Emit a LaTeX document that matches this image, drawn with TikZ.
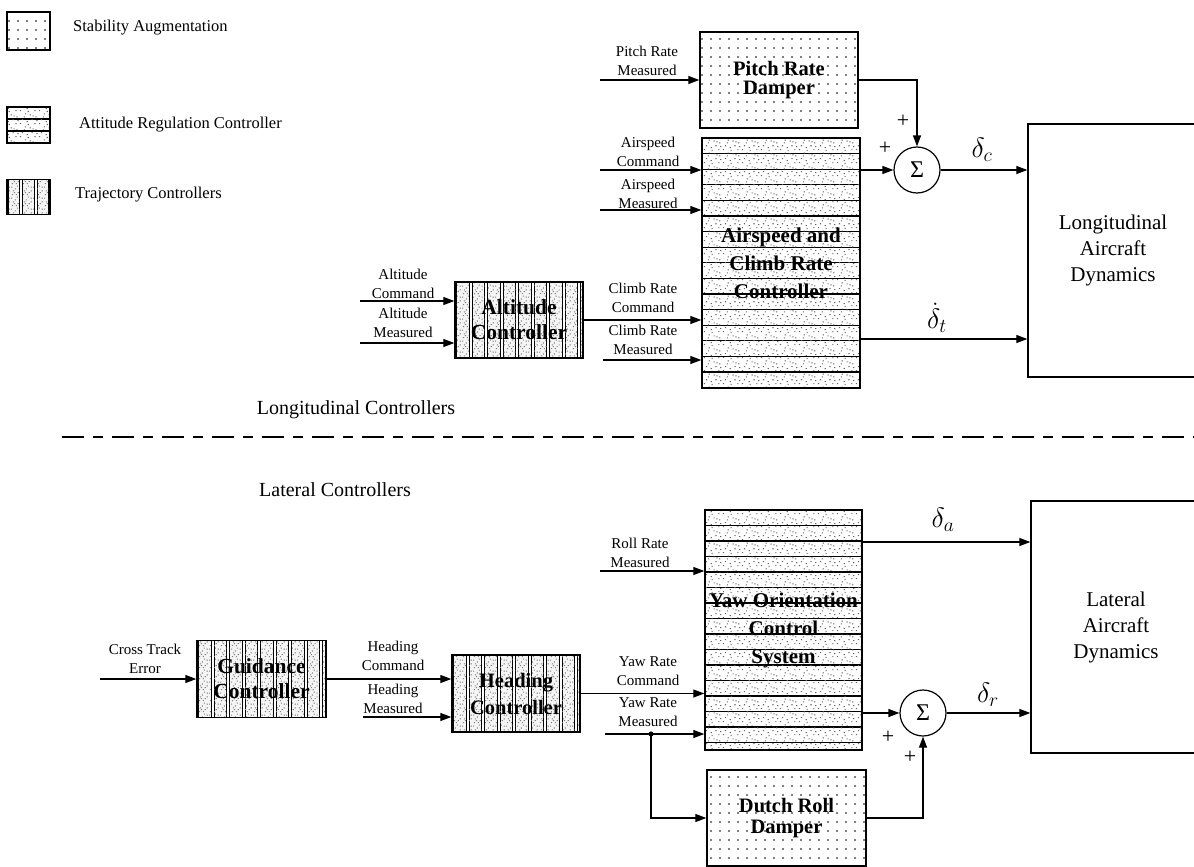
\RequirePackage{fix-cm}
\documentclass[tikz,border=0pt]{standalone}
\usepackage{fontspec}
\setmainfont{Liberation Serif}
\usetikzlibrary{arrows.meta,patterns}

\newcommand{\spk}[2]{\pgfpathrectangle{\pgfqpoint{#1pt}{#2pt}}{\pgfqpoint{1.2pt}{1.1pt}}}
\pgfdeclarepatternformonly{sdots}{\pgfqpoint{-1pt}{-1pt}}{\pgfqpoint{1pt}{1pt}}{\pgfqpoint{9pt}{9pt}}{%
  \pgfpathcircle{\pgfqpoint{0pt}{0pt}}{0.85pt}\pgfusepath{fill}}
\pgfdeclarepatternformonly{speckle}{\pgfqpoint{0pt}{0pt}}{\pgfqpoint{19pt}{13pt}}{\pgfqpoint{19pt}{13pt}}{%
  \spk{1}{2}\spk{5}{9}\spk{8}{4}\spk{11}{11}\spk{13}{6}\spk{16}{2}\spk{17}{9}\spk{3}{6}\spk{9}{1}\spk{14}{10}\spk{6}{12}\spk{18}{5}\pgfusepath{fill}}
\pgfdeclarepatternformonly{speckle2}{\pgfqpoint{0pt}{0pt}}{\pgfqpoint{11pt}{11pt}}{\pgfqpoint{11pt}{11pt}}{%
  \spk{1}{1}\spk{4}{7}\spk{7}{3}\spk{9}{9}\spk{2}{5}\spk{6}{10}\spk{9}{5}\spk{5}{1}\spk{0}{9}\spk{3}{3}\pgfusepath{fill}}

\tikzset{
  arr/.style={line width=1.2pt, -{Triangle[length=11pt,width=8pt]}},
  lbl/.style={font=\fontsize{15}{19}\selectfont, align=center, inner sep=0pt},
  legtxt/.style={font=\fontsize{16.5}{19}\selectfont, inner sep=0pt},
  sectxt/.style={font=\fontsize{20}{24}\selectfont, inner sep=0pt},
  pluslbl/.style={font=\fontsize{22}{22}\selectfont, inner sep=0pt},
  deltalbl/.style={font=\fontsize{28}{28}\selectfont, inner sep=0pt},
  stabbox/.style={draw, line width=1.3pt, pattern=sdots, align=center, inner sep=0pt},
  attbox/.style={draw, line width=1.4pt, align=center, inner sep=0pt,
    path picture={\foreach \k in {0,...,20}{
      \draw[line width=1.3pt, postaction={pattern=speckle, pattern color=black!60}]
        ([yshift={-\k*#1*1pt}]path picture bounding box.north west) rectangle
        ([yshift={-(\k+1)*#1*1pt}]path picture bounding box.north east);}}},
  trajbox/.style={draw, line width=1.4pt, align=center, inner sep=0pt,
    path picture={\foreach \k in {0,...,12}{
      \draw[line width=1pt, fill=black!4, postaction={pattern=speckle2, pattern color=black!50}]
        ([xshift={(\k*#1+1.5)*1pt}]path picture bounding box.south west) rectangle
        ([xshift={((\k+1)*#1-1.5)*1pt}]path picture bounding box.north west);}}},
  sumnode/.style={draw, circle, line width=1.2pt, minimum size=46pt, inner sep=0pt, font=\fontsize{24}{24}\selectfont},
  plantbox/.style={draw, line width=1.3pt, align=center, inner sep=0pt, font=\fontsize{21}{26}\selectfont},
  dashline/.style={line width=1.6pt, dash pattern=on 22pt off 9pt on 10pt off 9pt}
}

\begin{document}
\begin{tikzpicture}[x=1pt,y=-1pt]
\useasboundingbox (0,0) rectangle (1194,867);

% ---------- legend ----------
\node[stabbox, minimum width=43pt, minimum height=38pt] (lg1) at (28.5,31) {};
\node[legtxt, anchor=west] (lt1) at (73,28) {Stability Augmentation};
\node[attbox=12, minimum width=43pt, minimum height=36pt] (lg2) at (28.5,125) {};
\node[legtxt, anchor=west] (lt2) at (79,125) {Attitude Regulation Controller};
\node[trajbox=14.33, minimum width=43pt, minimum height=35pt] (lg3) at (28.5,197) {};
\node[legtxt, anchor=west] (lt3) at (75,195) {Trajectory Controllers};

% ---------- longitudinal ----------
\node[stabbox, minimum width=158pt, minimum height=96pt, font=\bfseries\fontsize{20.5}{19}\selectfont] (prd) at (779,80) {Pitch Rate\\Damper};
\node[attbox=15.6, minimum width=158pt, minimum height=250pt, font=\bfseries\fontsize{21}{28}\selectfont] (asc) at (781,263) {Airspeed and\\Climb Rate\\Controller};
\node[sumnode] (sum1) at (917,170) {Σ};
\node[plantbox, minimum width=170pt, minimum height=253pt] (long) at (1113,250.5) {Longitudinal\\Aircraft\\Dynamics};
\node[trajbox=15.5, minimum width=128pt, minimum height=76pt, font=\bfseries\fontsize{21.5}{25}\selectfont] (alt) at (519,320) {Altitude\\Controller};

\node[lbl] (lprm) at (647,61) {Pitch Rate\\Measured};
\node[lbl] (lasc) at (648,151.5) {Airspeed\\Command};
\node[lbl] (lasm) at (648,194) {Airspeed\\Measured};
\node[lbl] (lcrc) at (643,297.5) {Climb Rate\\Command};
\node[lbl] (lcrm) at (643,339.5) {Climb Rate\\Measured};
\node[lbl] (lalc) at (403,283.5) {Altitude\\Command};
\node[lbl] (lalm) at (403,322.5) {Altitude\\Measured};

\coordinate (prS) at (600,80);
\coordinate (acS) at (600,170);
\coordinate (amS) at (600,210);
\coordinate (crmS) at (603,360);
\coordinate (alcS) at (360,301);
\coordinate (almS) at (360,343);
\path ([yshift=-76pt]asc.east) coordinate (dtS);

\draw[arr] (prS) -- (prd.west);
\draw[arr] (acS) -- (acS -| asc.west);
\draw[arr] (amS) -- (amS -| asc.west);
\draw[arr] (sum1 -| asc.east) -- (sum1.west);
\draw[arr] (prd.east) -| (sum1.north);
\draw[arr] (sum1.east) -- (sum1 -| long.west);
\draw[arr] (alcS) -- (alcS -| alt.west);
\draw[arr] (almS) -- (almS -| alt.west);
\draw[arr] (alt.east) -- (alt.east -| asc.west);
\draw[arr] (crmS) -- (crmS -| asc.west);
\draw[arr] (dtS) -- (dtS -| long.west);

\node[pluslbl] (p1) at (903,121) {+};
\node[pluslbl] (p2) at (885,148) {+};
\node[deltalbl] (dc) at (982,150) {$\delta_c$};
\node[deltalbl] (dt) at (937,318) {$\dot{\delta}_t$};

% ---------- separator ----------
\node[sectxt] (tlong) at (356,410) {Longitudinal Controllers};
\coordinate (dl1) at (62,437);
\coordinate (dl2) at (1194,437);
\draw[dashline] (dl1) -- (dl2);
\node[sectxt] (tlat) at (335,490) {Lateral Controllers};

% ---------- lateral ----------
\node[attbox=15.5, minimum width=157pt, minimum height=240pt, font=\bfseries\fontsize{21}{28}\selectfont] (yaw) at (783.5,630) {Yaw Orientation\\Control\\System};
\node[stabbox, minimum width=159pt, minimum height=96pt, font=\bfseries\fontsize{20.5}{21}\selectfont] (drd) at (786.5,818) {Dutch Roll\\Damper};
\node[sumnode] (sum2) at (923,713) {Σ};
\node[plantbox, minimum width=170pt, minimum height=252pt] (lat) at (1116,627) {Lateral\\Aircraft\\Dynamics};
\node[trajbox=15.5, minimum width=129pt, minimum height=77pt, font=\bfseries\fontsize{21.5}{25}\selectfont] (gdc) at (261.5,679) {Guidance\\Controller};
\node[trajbox=15.5, minimum width=128pt, minimum height=77pt, font=\bfseries\fontsize{20.5}{27}\selectfont] (hdg) at (516,693.5) {Heading\\Controller};

\node[lbl] (lrrm) at (640,552.5) {Roll Rate\\Measured};
\node[lbl] (lyrc) at (648,671.5) {Yaw Rate\\Command};
\node[lbl] (lyrm) at (648,712.5) {Yaw Rate\\Measured};
\node[lbl] (lcte) at (145,658.5) {Cross Track\\Error};
\node[lbl] (lhdc) at (393,655.5) {Heading\\Command};
\node[lbl] (lhdm) at (393,698.5) {Heading\\Measured};

\coordinate (rrS) at (600,571);
\coordinate (yrmS) at (605,734);
\coordinate (tap) at (651,734);
\coordinate (cteS) at (100,679);
\coordinate (hdmS) at (363,717);
\path ([yshift=88pt]yaw.east) coordinate (daS);

\draw[arr] (rrS) -- (rrS -| yaw.west);
\draw[arr] (daS) -- (daS -| lat.west);
\draw[arr] (hdg.east) -- (hdg.east -| yaw.west);
\draw[arr] (yrmS) -- (yrmS -| yaw.west);
\fill (tap) circle (2.6pt);
\draw[arr] (tap) |- (drd.west);
\draw[arr] (sum2 -| yaw.east) -- (sum2.west);
\draw[arr] (drd.east) -| (sum2.south);
\draw[arr] (sum2.east) -- (sum2 -| lat.west);
\draw[arr] (cteS) -- (gdc.west);
\draw[arr] (gdc.east) -- (gdc.east -| hdg.west);
\draw[arr] (hdmS) -- (hdmS -| hdg.west);

\node[pluslbl] (p3) at (888,737) {+};
\node[pluslbl] (p4) at (910,757) {+};
\node[deltalbl] (da) at (943,520) {$\delta_a$};
\node[deltalbl] (dr) at (988,695) {$\delta_r$};
\end{tikzpicture}
\end{document}
